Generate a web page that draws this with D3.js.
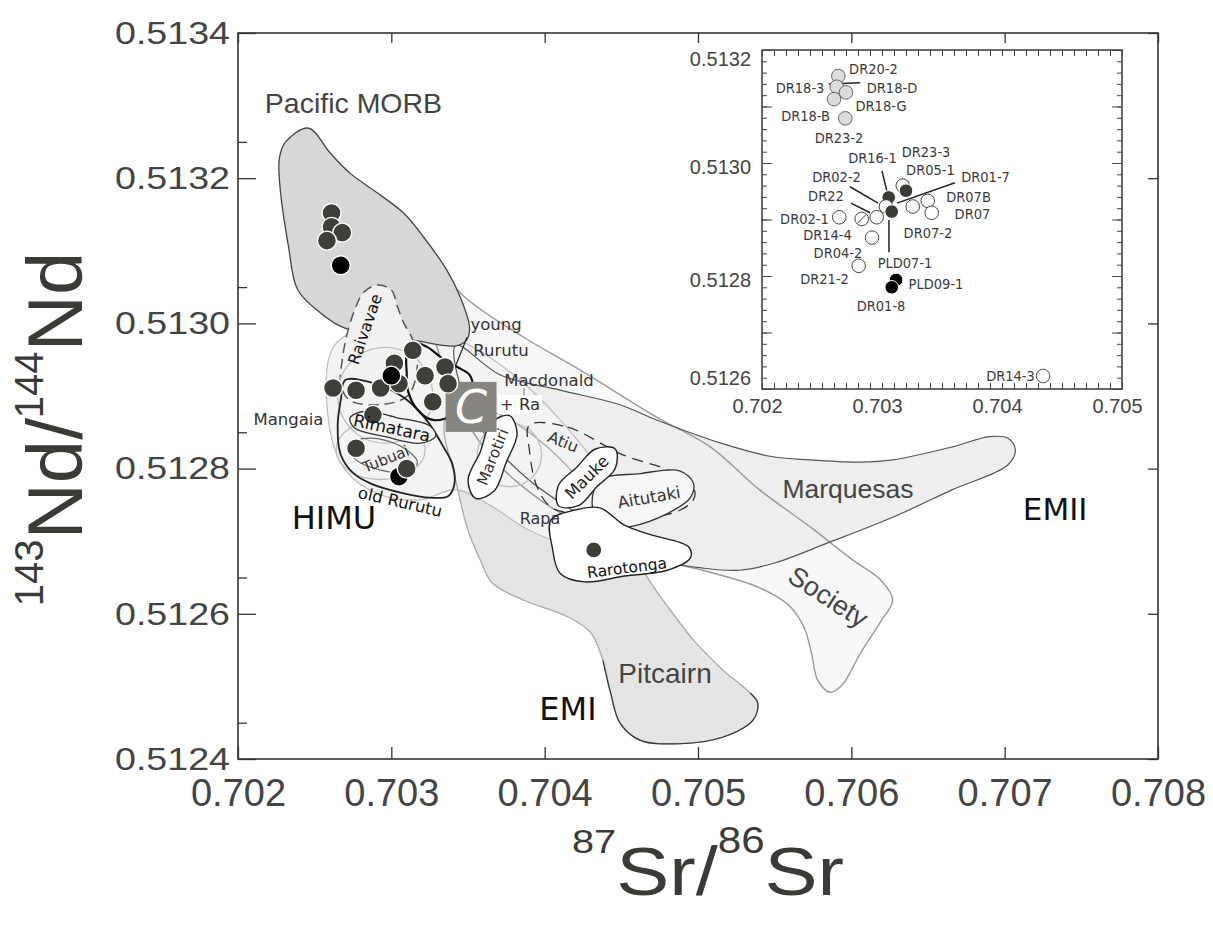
<!DOCTYPE html>
<html><head><meta charset="utf-8">
<script src="https://cdn.jsdelivr.net/npm/d3@7"></script>
<style>body{margin:0;background:#fff}svg{display:block}</style>
</head><body>
<svg id="c" width="1213" height="927"></svg>
<script>
// ---------------- DATA ----------------
const xTicks = [0.702,0.703,0.704,0.705,0.706,0.707,0.708];
const yTicks = [0.5124,0.5126,0.5128,0.5130,0.5132,0.5134];
const insetXTicks = [0.702,0.703,0.704,0.705];
const insetYTicks = [0.5126,0.5128,0.5130,0.5132];

// main plot samples [87Sr/86Sr, 143Nd/144Nd]
const morbGray = [[0.70261,0.513152],[0.70261,0.513133],[0.70268,0.513125],[0.70258,0.513114]];
const morbBlack = [[0.70267,0.513080]];
const australBlackLow = [[0.70305,0.512789]];
const australGray = [[0.70314,0.512963],[0.70302,0.512945],[0.70305,0.512917],[0.70322,0.512928],[0.70335,0.512940],
  [0.70337,0.512917],[0.70327,0.512892],[0.70262,0.512911],[0.70277,0.512908],[0.70293,0.512911],
  [0.70288,0.512874],[0.70277,0.512828],[0.70310,0.512800]];
const australBlackHigh = [[0.70300,0.512928]];
const rarotongaSample = [[0.70432,0.512688]];

// fields (outline vertices in data units)
const fieldMORB = [[0.70246,0.513269],[0.70260,0.513235],[0.70273,0.513207],[0.70288,0.513184],[0.70308,0.513152],
  [0.70321,0.513119],[0.70336,0.513074],[0.70345,0.513036],[0.70351,0.512994],[0.70349,0.512977],[0.70342,0.512969],
  [0.70314,0.512977],[0.70286,0.512985],[0.70267,0.512996],[0.70254,0.513014],[0.70239,0.513046],[0.70233,0.513105],
  [0.70227,0.513198],[0.70227,0.513228],[0.70231,0.513250]];
const fieldRaivavae = [[0.70291,0.513053],[0.70300,0.513046],[0.70304,0.513023],[0.70308,0.513001],[0.70314,0.512977],
  [0.70317,0.512943],[0.70311,0.512901],[0.70293,0.512888],[0.70273,0.512894],[0.70267,0.512915],[0.70268,0.512950],
  [0.70271,0.512984],[0.70276,0.513018],[0.70282,0.513043]];
const fieldSociety = [[0.70314,0.513129],[0.70345,0.513042],[0.70384,0.512984],[0.70423,0.512936],[0.70473,0.512871],
  [0.70508,0.512830],[0.70540,0.512771],[0.70573,0.512720],[0.70601,0.512674],[0.70619,0.512647],[0.70627,0.512619],
  [0.70619,0.512589],[0.70606,0.512546],[0.70594,0.512502],[0.70586,0.512492],[0.70578,0.512509],[0.70574,0.512546],
  [0.70569,0.512582],[0.70559,0.512612],[0.70540,0.512636],[0.70503,0.512660],[0.70469,0.512677],[0.70436,0.512709],
  [0.70397,0.512757],[0.70364,0.512819],[0.70342,0.512894],[0.70325,0.513005]];
const fieldMarquesas = [[0.70342,0.512970],[0.70371,0.512929],[0.70410,0.512908],[0.70449,0.512888],[0.70473,0.512867],
  [0.70515,0.512835],[0.70547,0.512817],[0.70573,0.512812],[0.70606,0.512809],[0.70627,0.512812],[0.70666,0.512830],
  [0.70690,0.512844],[0.70702,0.512842],[0.70707,0.512826],[0.70702,0.512805],[0.70666,0.512771],[0.70627,0.512733],
  [0.70585,0.512698],[0.70550,0.512670],[0.70527,0.512660],[0.70503,0.512663],[0.70482,0.512671],[0.70456,0.512695],
  [0.70423,0.512736],[0.70390,0.512784],[0.70364,0.512839],[0.70348,0.512894]];
const fieldPitcairn = [[0.70335,0.512867],[0.70342,0.512784],[0.70350,0.512715],[0.70358,0.512674],[0.70366,0.512642],
  [0.70386,0.512619],[0.70415,0.512596],[0.70430,0.512574],[0.70438,0.512536],[0.70443,0.512491],[0.70449,0.512450],
  [0.70462,0.512426],[0.70488,0.512421],[0.70516,0.512430],[0.70536,0.512454],[0.70539,0.512477],[0.70534,0.512491],
  [0.70516,0.512523],[0.70497,0.512564],[0.70482,0.512605],[0.70471,0.512637],[0.70462,0.512667],[0.70446,0.512722],
  [0.70426,0.512777],[0.70400,0.512833],[0.70371,0.512874],[0.70348,0.512888]];
const fieldEnvelope = [[0.70263,0.512970],[0.70293,0.512998],[0.70325,0.512991],[0.70351,0.512970],[0.70384,0.512922],
  [0.70410,0.512867],[0.70436,0.512798],[0.70449,0.512743],[0.70443,0.512702],[0.70417,0.512695],[0.70390,0.512715],
  [0.70364,0.512750],[0.70342,0.512771],[0.70319,0.512757],[0.70293,0.512764],[0.70270,0.512798],[0.70259,0.512867]];
const grayRings = [[0.70296,0.512901,0.00031,0.000066],[0.70293,0.512826,0.00029,0.000041],[0.70377,0.512819,0.00021,0.000044]];
const fieldOldRurutu = [[0.70270,0.512922],[0.70267,0.512894],[0.70265,0.512860],[0.70267,0.512819],[0.70275,0.512794],
  [0.70287,0.512779],[0.70308,0.512766],[0.70325,0.512760],[0.70337,0.512762],[0.70341,0.512777],[0.70340,0.512805],
  [0.70334,0.512830],[0.70324,0.512864],[0.70314,0.512888],[0.70302,0.512906],[0.70286,0.512919]];
const fieldRimatara = [[0.70273,0.512870],[0.70283,0.512879],[0.70304,0.512870],[0.70325,0.512859],[0.70329,0.512845],
  [0.70319,0.512835],[0.70296,0.512844],[0.70276,0.512856]];
const fieldTubuai = [[0.70272,0.512833],[0.70286,0.512842],[0.70306,0.512831],[0.70317,0.512809],[0.70311,0.512794],
  [0.70293,0.512798],[0.70277,0.512812]];
const fieldYoungRurutu = [[0.70314,0.512973],[0.70323,0.512968],[0.70332,0.512954],[0.70343,0.512940],[0.70351,0.512929],
  [0.70353,0.512912],[0.70349,0.512894],[0.70340,0.512874],[0.70327,0.512867],[0.70317,0.512881],[0.70311,0.512906],
  [0.70310,0.512933],[0.70310,0.512957]];
const fieldMarotiri = [[0.70377,0.512873],[0.70382,0.512848],[0.70375,0.512809],[0.70367,0.512769],[0.70355,0.512759],
  [0.70350,0.512784],[0.70358,0.512823],[0.70365,0.512863]];
const fieldMauke = [[0.70446,0.512827],[0.70446,0.512800],[0.70434,0.512775],[0.70422,0.512749],[0.70409,0.512749],
  [0.70409,0.512777],[0.70421,0.512802],[0.70433,0.512827]];
const fieldAitutaki = [[0.70436,0.512784],[0.70462,0.512793],[0.70488,0.512797],[0.70497,0.512780],[0.70495,0.512760],
  [0.70480,0.512738],[0.70456,0.512720],[0.70438,0.512718],[0.70431,0.512750]];
const fieldAtiu = [[0.70390,0.512860],[0.70415,0.512857],[0.70451,0.512819],[0.70484,0.512795],[0.70497,0.512775],
  [0.70497,0.512757],[0.70484,0.512739],[0.70454,0.512733],[0.70419,0.512738],[0.70404,0.512747],[0.70395,0.512775],
  [0.70390,0.512826]];
const fieldRarotonga = [[0.70404,0.512729],[0.70405,0.512691],[0.70410,0.512656],[0.70426,0.512644],[0.70452,0.512652],
  [0.70480,0.512660],[0.70495,0.512677],[0.70494,0.512692],[0.70469,0.512709],[0.70452,0.512722],[0.70436,0.512746],
  [0.70420,0.512743]];
const boxC = [0.70352,0.512885];

const mainLabelText = ["Pacific MORB","Marquesas","Pitcairn","Society","EMII","EMI","HIMU","Mangaia","Rimatara","Tubuai",
  "old Rurutu","Raivavae","young","Rurutu","Macdonald","+ Ra","Marotiri","Atiu","Mauke","Aitutaki","Rapa","Rarotonga"];
const mainLabelSr = [0.702753,0.705978,0.704785,0.705848,0.707329,0.704152,0.702626,0.702329,0.703004,0.702965,
  0.703057,0.702828,0.703683,0.703715,0.704028,0.703839,0.703663,0.704120,0.704276,0.704681,0.703970,0.704537];
const mainLabelNd = [0.513304,0.512772,0.512518,0.512623,0.512744,0.512469,0.512732,0.512867,0.512856,0.512813,
  0.512754,0.512992,0.512998,0.512962,0.512922,0.512888,0.512816,0.512837,0.512788,0.512760,0.512731,0.512663];
const mainLeaders = [[[0.703494,0.512981],[0.703422,0.512943]]];
const mainDashLeaders = [[[0.703865,0.512911],[0.703865,0.512897]]];

// inset samples
const insetGray = [[0.702636,0.513154],[0.702622,0.513135],[0.702700,0.513125],[0.702600,0.513113],[0.702694,0.513079]];
const insetWhiteA = [[0.703173,0.512960]];
const insetDarkA = [[0.703200,0.512951],[0.703056,0.512939]];
const insetWhiteB = [[0.703033,0.512923]];
const insetDarkB = [[0.703081,0.512914]];
const insetWhite = [[0.703256,0.512923],[0.703381,0.512933],[0.703414,0.512912],[0.702956,0.512904],[0.702644,0.512904],
  [0.702917,0.512868],[0.702806,0.512818],[0.704342,0.512623]];
const insetSlashed = [[0.702831,0.512901]];
const insetBlack = [[0.703117,0.512793],[0.703081,0.512780]];
const insetLabelText = ["DR20-2","DR18-3","DR18-D","DR18-G","DR18-B","DR23-2","DR16-1","DR23-3","DR05-1","DR01-7","DR02-2",
  "DR22","DR07B","DR07","DR02-1","DR14-4","DR07-2","DR04-2","PLD07-1","DR21-2","PLD09-1","DR01-8","DR14-3"];
const insetLabelSr = [0.702929,0.702317,0.703083,0.702992,0.702363,0.702642,0.702921,0.703367,0.703404,0.703863,0.702621,
  0.702533,0.703721,0.703754,0.702354,0.702546,0.703383,0.702633,0.703192,0.702521,0.703450,0.702992,0.704071];
const insetLabelNd = [0.513166,0.513133,0.513133,0.513101,0.513083,0.513044,0.513009,0.513020,0.512988,0.512975,0.512975,
  0.512942,0.512940,0.512910,0.512901,0.512872,0.512876,0.512841,0.512823,0.512795,0.512786,0.512747,0.512623];
const insetLeaders = [[[0.702558,0.513140],[0.702817,0.513142]],[[0.702733,0.512958],[0.702967,0.512929]],
  [[0.702742,0.512929],[0.702900,0.512912]],[[0.703000,0.512986],[0.703042,0.512949]],
  [[0.703608,0.512965],[0.703125,0.512929]],[[0.703058,0.512899],[0.703058,0.512842]]];

// ---------------- DRAW ----------------
const svg = d3.select("#c");
const SANS = "'Liberation Sans', Arial, Helvetica, sans-serif";
const COMIC = "'DejaVu Sans', sans-serif";
const x = d3.scaleLinear().domain([0.702,0.708]).range([238,1158]);
const y = d3.scaleLinear().domain([0.5124,0.5134]).range([759,33]);

const closed = d3.line().x(d=>x(d[0])).y(d=>y(d[1])).curve(d3.curveCatmullRomClosed.alpha(0.5));
const open = d3.line().x(d=>x(d[0])).y(d=>y(d[1])).curve(d3.curveCatmullRom.alpha(0.5));

const gF = svg.append("g");
const big = [
  {d:fieldSociety, fill:"#f8f8f8", stroke:"#9a9a9a", w:1.4},
  {d:fieldMarquesas, fill:"#eeeeee", stroke:"#555", w:1.2},
  {d:fieldPitcairn, fill:"#e4e4e4", stroke:"#aaa", w:1.3},
  {d:fieldEnvelope, fill:"#f3f3f3", stroke:"#bbb", w:1.2}
];
big.forEach(f=>gF.append("path").attr("d",closed(f.d)).attr("fill",f.fill).attr("stroke","none"));
big.forEach(f=>gF.append("path").attr("d",closed(f.d)).attr("fill","none").attr("stroke",f.stroke).attr("stroke-width",f.w));
gF.append("path").attr("d",open(fieldPitcairn.slice(8,17))).attr("fill","none").attr("stroke","#333").attr("stroke-width",1.2);

gF.append("path").attr("d",closed(fieldMORB)).attr("fill","#d7d7d7").attr("stroke","#444").attr("stroke-width",1.3);
gF.append("path").attr("d",closed(fieldRaivavae)).attr("fill","#f1f1f1").attr("stroke","#555")
  .attr("stroke-width",1.5).attr("stroke-dasharray","10,6");
grayRings.forEach(r=>gF.append("ellipse").attr("cx",x(r[0])).attr("cy",y(r[1]))
  .attr("rx",x(r[0]+r[2])-x(r[0])).attr("ry",y(r[1]-r[3])-y(r[1]))
  .attr("fill","none").attr("stroke","#bdbdbd").attr("stroke-width",1.3));
gF.append("path").attr("d",closed(fieldOldRurutu)).attr("fill","none").attr("stroke","#222").attr("stroke-width",1.8);
gF.append("path").attr("d",closed(fieldRimatara)).attr("fill","#f4f4f4").attr("stroke","#333").attr("stroke-width",1.3);
gF.append("path").attr("d",closed(fieldTubuai)).attr("fill","none").attr("stroke","#666").attr("stroke-width",1.2);
gF.append("path").attr("d",closed(fieldYoungRurutu)).attr("fill","none").attr("stroke","#111").attr("stroke-width",2.2);
gF.append("path").attr("d",closed(fieldAtiu)).attr("fill","none").attr("stroke","#333").attr("stroke-width",1.3).attr("stroke-dasharray","11,7");
gF.append("path").attr("d",closed(fieldAitutaki)).attr("fill","#f6f6f6").attr("stroke","#333").attr("stroke-width",1.3);
gF.append("path").attr("d",closed(fieldRarotonga)).attr("fill","#fff").attr("stroke","#222").attr("stroke-width",1.4);
gF.append("path").attr("d",closed(fieldMarotiri)).attr("fill","#fff").attr("stroke","#222").attr("stroke-width",1.4);
gF.append("path").attr("d",closed(fieldMauke)).attr("fill","#fff").attr("stroke","#222").attr("stroke-width",1.4);

// C box
gF.append("rect").attr("x",x(boxC[0])-25.5).attr("y",y(boxC[1])-25).attr("width",51).attr("height",50).attr("fill","#86857f");
gF.append("text").attr("x",x(boxC[0])).attr("y",y(boxC[1])+16).attr("text-anchor","middle")
  .attr("font-family",COMIC).attr("font-style","italic").attr("font-size",46).attr("fill","#fff").text("C");

// leaders
mainLeaders.forEach(l=>gF.append("line").attr("x1",x(l[0][0])).attr("y1",y(l[0][1])).attr("x2",x(l[1][0])).attr("y2",y(l[1][1]))
  .attr("stroke","#222").attr("stroke-width",1.2));
mainDashLeaders.forEach(l=>gF.append("line").attr("x1",x(l[0][0])).attr("y1",y(l[0][1])).attr("x2",x(l[1][0])).attr("y2",y(l[1][1]))
  .attr("stroke","#888").attr("stroke-width",1.2));

// points
const gP = svg.append("g");
function pts(arr, fill, r, stroke, sw){
  gP.selectAll(null).data(arr).enter().append("circle")
    .attr("cx",d=>x(d[0])).attr("cy",d=>y(d[1])).attr("r",r)
    .attr("fill",fill).attr("stroke",stroke).attr("stroke-width",sw);
}
pts(morbGray,"#3f3f3a",9.5,"#fff",1.4);
pts(morbBlack,"#000",9.5,"#fff",1.4);
pts(australBlackLow,"#000",9.5,"#fff",1.4);
pts(australGray,"#3f3f3a",9.5,"#fff",1.4);
pts(australBlackHigh,"#000",9.5,"#fff",1.4);
pts(rarotongaSample,"#3f3f3a",8,"#fff",1.2);

// labels
const labelFmt = {
  "Pacific MORB":{f:SANS,s:28.5,c:"#444"},
  "Marquesas":{f:SANS,s:26.5,c:"#444"},
  "Pitcairn":{f:SANS,s:28,c:"#444"},
  "Society":{f:SANS,s:27,c:"#444",r:33},
  "EMII":{f:COMIC,s:31,c:"#111"},
  "EMI":{f:COMIC,s:32,c:"#111"},
  "HIMU":{f:COMIC,s:32,c:"#111"},
  "Mangaia":{f:COMIC,s:16.5,c:"#333"},
  "Rimatara":{f:COMIC,s:17,c:"#111",r:12},
  "Tubuai":{f:COMIC,s:15,c:"#333",r:-22},
  "old Rurutu":{f:COMIC,s:16.5,c:"#111",r:13},
  "Raivavae":{f:COMIC,s:16,c:"#111",r:-71},
  "young":{f:COMIC,s:16.5,c:"#333"},
  "Rurutu":{f:COMIC,s:16.5,c:"#333"},
  "Macdonald":{f:COMIC,s:16.5,c:"#333"},
  "+ Ra":{f:COMIC,s:16.5,c:"#333",bg:true},
  "Marotiri":{f:COMIC,s:15.5,c:"#333",r:-68},
  "Atiu":{f:COMIC,s:16,c:"#333",r:22},
  "Mauke":{f:COMIC,s:16.5,c:"#222",r:-45},
  "Aitutaki":{f:COMIC,s:16.5,c:"#333",r:-10},
  "Rapa":{f:COMIC,s:16,c:"#333"},
  "Rarotonga":{f:COMIC,s:15.5,c:"#111",r:-7}
};
const gL = svg.append("g");
mainLabelText.forEach((t,i)=>{
  const st = labelFmt[t];
  const g = gL.append("g").attr("transform",`translate(${x(mainLabelSr[i])},${y(mainLabelNd[i])}) rotate(${st.r||0})`);
  const tx = g.append("text").attr("text-anchor","middle").attr("dominant-baseline","central")
    .attr("font-family",st.f).attr("font-size",st.s).attr("fill",st.c).text(t);
  if(st.bg){
    const b = tx.node().getBBox();
    g.insert("rect","text").attr("x",b.x-2).attr("y",b.y).attr("width",b.width+4).attr("height",b.height).attr("fill","#fff");
  }
});

// axes
const gA = svg.append("g").attr("font-family",SANS);
const minorY = d3.range(0.51245,0.5134,0.0002);
function styleAxis(g){ g.select(".domain").remove(); g.selectAll("line").attr("stroke","#333").attr("stroke-width",1.3); }
const axL = gA.append("g").attr("transform","translate(238,0)")
  .call(d3.axisLeft(y).tickValues(yTicks).tickSizeInner(-18).tickSizeOuter(0).tickPadding(8).tickFormat(d3.format(".4f")));
axL.selectAll("text").attr("font-size",32).attr("fill","#444").attr("textLength",115).attr("lengthAdjust","spacingAndGlyphs");
styleAxis(axL);
const axLm = gA.append("g").attr("transform","translate(238,0)").call(d3.axisLeft(y).tickValues(minorY.map(v=>+v.toFixed(5))).tickSize(-9).tickFormat(""));
styleAxis(axLm);
const axB = gA.append("g").attr("transform","translate(0,759)")
  .call(d3.axisBottom(x).tickValues(xTicks).tickSizeInner(-12).tickSizeOuter(0).tickPadding(20).tickFormat(d3.format(".3f")));
axB.selectAll("text").attr("font-size",38).attr("fill","#444");
styleAxis(axB);
const axT = gA.append("g").attr("transform","translate(0,33)").call(d3.axisTop(x).tickValues(xTicks).tickSize(-10).tickFormat(""));
styleAxis(axT);
const axR = gA.append("g").attr("transform","translate(1158,0)").call(d3.axisRight(y).tickValues(yTicks).tickSize(-10).tickFormat(""));
styleAxis(axR);
gA.append("rect").attr("x",238).attr("y",33).attr("width",920).attr("height",726).attr("fill","none").attr("stroke","#333").attr("stroke-width",1.6);

// axis titles
const yt = gA.append("text").attr("transform","translate(82,429) rotate(-90)").attr("text-anchor","middle").attr("fill","#3a3a36");
yt.append("tspan").attr("font-size",40).attr("dy",-39).text("143");
yt.append("tspan").attr("font-size",78).attr("dy",39).text("Nd/");
yt.append("tspan").attr("font-size",40).attr("dy",-39).text("144");
yt.append("tspan").attr("font-size",78).attr("dy",39).text("Nd");
const xt = gA.append("text").attr("transform","translate(708,895)").attr("text-anchor","middle").attr("fill","#3a3a36")
  .attr("textLength",272).attr("lengthAdjust","spacingAndGlyphs");
xt.append("tspan").attr("font-size",34).attr("dy",-42).text("87");
xt.append("tspan").attr("font-size",68).attr("dy",42).text("Sr/");
xt.append("tspan").attr("font-size",36).attr("dy",-42).text("86");
xt.append("tspan").attr("font-size",68).attr("dy",42).text("Sr");

// ---------------- INSET ----------------
const xi = d3.scaleLinear().domain([0.702,0.705]).range([762,1122]);
const yi = d3.scaleLinear().domain([0.5126,0.5132]).range([389,50]);
const gI = svg.append("g");
gI.append("rect").attr("x",762).attr("y",50).attr("width",360).attr("height",339).attr("fill","#fff");
const iMinorY = d3.range(0,31).map(i=>+(0.5126+i*0.00002).toFixed(5));
const iMajorY = d3.range(0,7).map(i=>+(0.5126+i*0.0001).toFixed(4));
const iMinorX = d3.range(0,31).map(i=>+(0.702+i*0.0001).toFixed(4));
function thin(g){ g.select(".domain").remove(); g.selectAll("line").attr("stroke","#444").attr("stroke-width",1); }
thin(gI.append("g").attr("transform","translate(762,0)").call(d3.axisLeft(yi).tickValues(iMinorY).tickSize(-5).tickFormat("")));
thin(gI.append("g").attr("transform","translate(762,0)").call(d3.axisLeft(yi).tickValues(iMajorY).tickSize(-10).tickFormat("")));
thin(gI.append("g").attr("transform","translate(1122,0)").call(d3.axisRight(yi).tickValues(iMinorY).tickSize(-5).tickFormat("")));
thin(gI.append("g").attr("transform","translate(1122,0)").call(d3.axisRight(yi).tickValues(iMajorY).tickSize(-10).tickFormat("")));
thin(gI.append("g").attr("transform","translate(0,50)").call(d3.axisTop(xi).tickValues(iMinorX).tickSize(-6).tickFormat("")));
thin(gI.append("g").attr("transform","translate(0,389)").call(d3.axisBottom(xi).tickValues(iMinorX).tickSize(-6).tickFormat("")));
const ilab = gI.append("g").attr("font-family",SANS);
const aiL = ilab.append("g").attr("transform","translate(762,0)")
  .call(d3.axisLeft(yi).tickValues(insetYTicks).tickSize(0).tickPadding(11).tickFormat(d3.format(".4f")));
aiL.select(".domain").remove();
aiL.selectAll("text").attr("font-size",20).attr("fill","#444")
  .attr("dy",d=>d===0.5132?"0.75em":(d===0.5126?"-0.25em":"0.5em"));
const aiB = ilab.append("g").attr("transform","translate(-5,389)")
  .call(d3.axisBottom(xi).tickValues(insetXTicks).tickSize(0).tickPadding(10).tickFormat(d3.format(".3f")));
aiB.select(".domain").remove();
aiB.selectAll("text").attr("font-size",20).attr("fill","#444");
gI.append("rect").attr("x",762).attr("y",50).attr("width",360).attr("height",339).attr("fill","none").attr("stroke","#444").attr("stroke-width",1.6);

insetLeaders.forEach(l=>gI.append("line").attr("x1",xi(l[0][0])).attr("y1",yi(l[0][1])).attr("x2",xi(l[1][0])).attr("y2",yi(l[1][1]))
  .attr("stroke","#222").attr("stroke-width",1.5));
function ipts(arr, fill, stroke){
  gI.selectAll(null).data(arr).enter().append("circle")
    .attr("cx",d=>xi(d[0])).attr("cy",d=>yi(d[1])).attr("r",6.8)
    .attr("fill",fill).attr("stroke",stroke).attr("stroke-width",1);
}
ipts(insetGray,"#dcdcdc","#666");
ipts(insetWhiteA,"#fff","#444");
ipts(insetDarkA,"#3a3a36","#fff");
ipts(insetWhiteB,"#fff","#444");
ipts(insetDarkB,"#3a3a36","#fff");
ipts(insetWhite,"#fff","#444");
ipts(insetSlashed,"#fff","#444");
insetSlashed.forEach(d=>gI.append("line").attr("x1",xi(d[0])-4.5).attr("y1",yi(d[1])+4.5).attr("x2",xi(d[0])+4.5).attr("y2",yi(d[1])-4.5)
  .attr("stroke","#444").attr("stroke-width",1));
ipts(insetBlack,"#000","#fff");
insetLabelText.forEach((t,i)=>{
  gI.append("text").attr("x",xi(insetLabelSr[i])).attr("y",yi(insetLabelNd[i])).attr("text-anchor","middle")
    .attr("dominant-baseline","central").attr("font-family","'DejaVu Sans Condensed','Liberation Sans Narrow',sans-serif")
    .attr("font-size",14.5).attr("fill","#3a3a3a").text(t);
});
</script>
</body></html>
